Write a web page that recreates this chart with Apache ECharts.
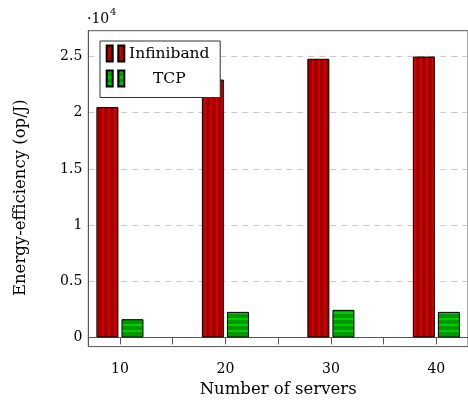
<!DOCTYPE html>
<html>
<head>
<meta charset="utf-8">
<script src="https://cdn.jsdelivr.net/npm/echarts@6/dist/echarts.min.js"></script>
<style>
html,body{margin:0;padding:0;background:#fff;}
#chart{width:468px;height:403px;}
</style>
</head>
<body>
<div id="chart"></div>
<script>
// ---- data ----
var servers = [10, 20, 30, 40];
var infiniband = [20500, 22950, 24800, 25000];
var tcp = [1620, 2270, 2450, 2270];
var yTicks = [0, 5000, 10000, 15000, 20000, 25000];
var xTicks = [10, 15, 20, 25, 30, 35, 40];
var xLabels = [10, 20, 30, 40];
var seriesNames = ['Infiniband', 'TCP'];

var FONT = 'DejaVu Serif';

function stripes(base, light, vertical) {
  var c = document.createElement('canvas');
  c.width = 6; c.height = 6;
  var g = c.getContext('2d');
  g.fillStyle = base; g.fillRect(0, 0, 6, 6);
  g.fillStyle = light;
  if (vertical) g.fillRect(0, 0, 2, 6); else g.fillRect(0, 0, 6, 2);
  return { image: c, repeat: 'repeat' };
}
var redPat = stripes('#a00000', '#d40000', true);
var greenPat = stripes('#009a00', '#00cc00', false);

function pairs(xs, ys) { return xs.map(function (x, i) { return [x, ys[i]]; }); }

var chart = echarts.init(document.getElementById('chart'), null, { renderer: 'canvas' });
chart.setOption({
  animation: false,
  backgroundColor: '#fff',
  grid: { left: 88.3, right: -2.6, top: 30.7, bottom: 53.2, show: true, borderColor: '#555', borderWidth: 1, backgroundColor: 'transparent' },
  legend: {
    data: seriesNames,
    orient: 'vertical',
    left: 100, top: 41,
    padding: [3.5, 10.7, 10, 5.7],
    itemGap: 7,
    itemWidth: 17.6, itemHeight: 16,
    icon: 'path://M0,0H6V16H0Z M11.6,0H17.6V16H11.6Z',
    backgroundColor: '#fff',
    borderColor: '#333', borderWidth: 1, borderRadius: 0,
    formatter: '{c|{name}}',
    textStyle: { fontFamily: FONT, fontSize: 15.5, color: '#000',
      rich: { c: { width: 80, align: 'center', fontFamily: FONT, fontSize: 15.5, color: '#000' } } }
  },
  xAxis: {
    type: 'value', min: 7, max: 43,
    name: 'Number of servers', nameLocation: 'middle', nameGap: 32,
    nameTextStyle: { fontFamily: FONT, fontSize: 16.5, color: '#000' },
    axisLine: { show: true, lineStyle: { color: '#555', width: 1 } },
    axisTick: { show: true, length: 7, lineStyle: { color: '#555' }, customValues: xTicks },
    axisLabel: { customValues: xLabels, margin: 15.5, fontFamily: FONT, fontSize: 14, color: '#000' },
    splitLine: { show: false }
  },
  yAxis: {
    type: 'value', min: -820, max: 27300,
    name: 'Energy-efficiency (op/J)', nameLocation: 'middle', nameGap: 59,
    nameTextStyle: { fontFamily: FONT, fontSize: 16.5, color: '#000', padding: [0, 18, 0, 0] },
    axisLine: { show: true, lineStyle: { color: '#555', width: 1 } },
    axisTick: { show: false, customValues: yTicks },
    axisLabel: { customValues: yTicks, margin: 6, fontFamily: FONT, fontSize: 14, color: '#000',
      formatter: function (v) { return String(v / 10000); } },
    splitLine: { show: true, lineStyle: { color: '#c8c8c8', type: [6, 5], width: 1 } }
  },
  graphic: [
    { type: 'text', left: 87, top: 12, style: { text: '·10', fontFamily: FONT, fontSize: 14, fill: '#000' } },
    { type: 'text', left: 110, top: 7, style: { text: '4', fontFamily: FONT, fontSize: 10, fill: '#000' } }
  ],
  series: [
    { name: seriesNames[0], type: 'bar', data: pairs(servers, infiniband), barWidth: 22, barGap: '14%',
      itemStyle: { color: redPat, borderColor: '#000', borderWidth: 1 } },
    { name: seriesNames[1], type: 'bar', data: pairs(servers, tcp), barWidth: 22, barGap: '14%',
      itemStyle: { color: greenPat, borderColor: '#000', borderWidth: 1 } }
  ]
});
</script>
</body>
</html>
